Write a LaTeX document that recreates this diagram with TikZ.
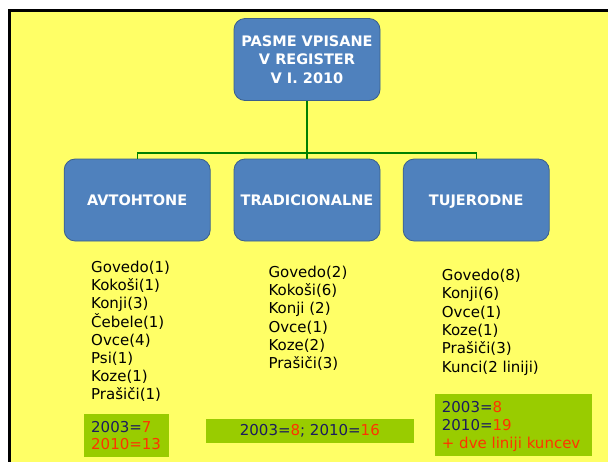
\documentclass[tikz,border=0pt]{standalone}
\usepackage{fontspec}
\setmainfont{DejaVu Sans}
\usetikzlibrary{positioning}
\usepackage{xcolor}
\definecolor{SlideYellow}{HTML}{FFFF66}
\definecolor{SlideGreen}{HTML}{99CC00}
\definecolor{BoxBlue}{HTML}{4F81BD}
\definecolor{BoxEdge}{HTML}{3A5F8C}
\definecolor{LineGreen}{HTML}{008000}
\definecolor{YearNavy}{HTML}{1B1B5E}
\definecolor{CountOrange}{HTML}{FF3300}

\begin{document}
\begin{tikzpicture}[x=1pt, y=-1pt,
    breed/.style={rectangle, rounded corners=11pt, fill=BoxBlue, draw=BoxEdge, line width=0.8pt,
      minimum width=146pt, minimum height=82pt, text=white, align=center, text depth=0pt,
      font=\fontsize{14.5}{18.5}\selectfont\bfseries},
    item/.style={anchor=base west, inner sep=0pt, font=\fontsize{15}{18}\selectfont},
    tally/.style={fill=SlideGreen, inner sep=0pt, anchor=north west}]
                % Slide background and frame
                \useasboundingbox (0,0) rectangle (608,461);
                \fill[white] (0,0) rectangle (608,461);
                \draw[line width=3pt, fill=SlideYellow] (9,10.5) rectangle (625,475);

                % Boxes
                \node[breed] (root) at (307,59.5) {PASME VPISANE\\V REGISTER\\V I. 2010};
                \node[breed] (avto) at (137.2,200) {AVTOHTONE};
                \node[breed] (trad) at (307,200) {TRADICIONALNE};
                \node[breed] (tuje) at (476.2,200) {TUJERODNE};

                % Connectors
                \coordinate (bar) at (307,153);
                \draw[LineGreen, line width=1.4pt] (root) -- (trad);
                \draw[LineGreen, line width=1.4pt] (avto) |- (bar) -| (tuje);

                % Breed lists
                \foreach \animal [count=\i] in {Govedo(1),Kokoši(1),Konji(3),Čebele(1),Ovce(4),Psi(1),Koze(1),Prašiči(1)}
                    \node[item] (avto-\i) at (91,254.2+18.2*\i) {\animal};
                \foreach \animal [count=\i] in {Govedo(2),Kokoši(6),Konji (2),Ovce(1),Koze(2),Prašiči(3)}
                    \node[item] (trad-\i) at (268.3,259.15+18.26*\i) {\animal};
                \foreach \animal [count=\i] in {Govedo(8),Konji(6),Ovce(1),Koze(1),Prašiči(3),Kunci(2 liniji)}
                    \node[item] (tuje-\i) at (441.7,262.45+18.26*\i) {\animal};

                % Totals
                \node[tally, minimum width=85pt, minimum height=42.7pt] (sumA) at (84,414) {};
                \node[item, text=YearNavy] (sumA-1) at (91,432.7) {2003=\textcolor{CountOrange}{7}};
                \node[item, text=CountOrange] (sumA-2) at (91,449.4) {2010=13};

                \node[fill=SlideGreen, inner sep=0pt, minimum width=207.7pt, minimum height=24.3pt,
                    text=YearNavy, font=\fontsize{15}{18}\selectfont] (sumB) at (309.85,431.15)
                    {2003=\textcolor{CountOrange}{8}; 2010=\textcolor{CountOrange}{16}};

                \node[tally, minimum width=156.7pt, minimum height=61.7pt] (sumC) at (435,394) {};
                \node[item, text=YearNavy] (sumC-1) at (441.7,412.1) {2003=\textcolor{CountOrange}{8}};
                \node[item, text=YearNavy] (sumC-2) at (441.7,430.8) {2010=\textcolor{CountOrange}{19}};
                \node[item, text=CountOrange] (sumC-3) at (441.7,448.8) {+ dve liniji kuncev};
\end{tikzpicture}
\end{document}
